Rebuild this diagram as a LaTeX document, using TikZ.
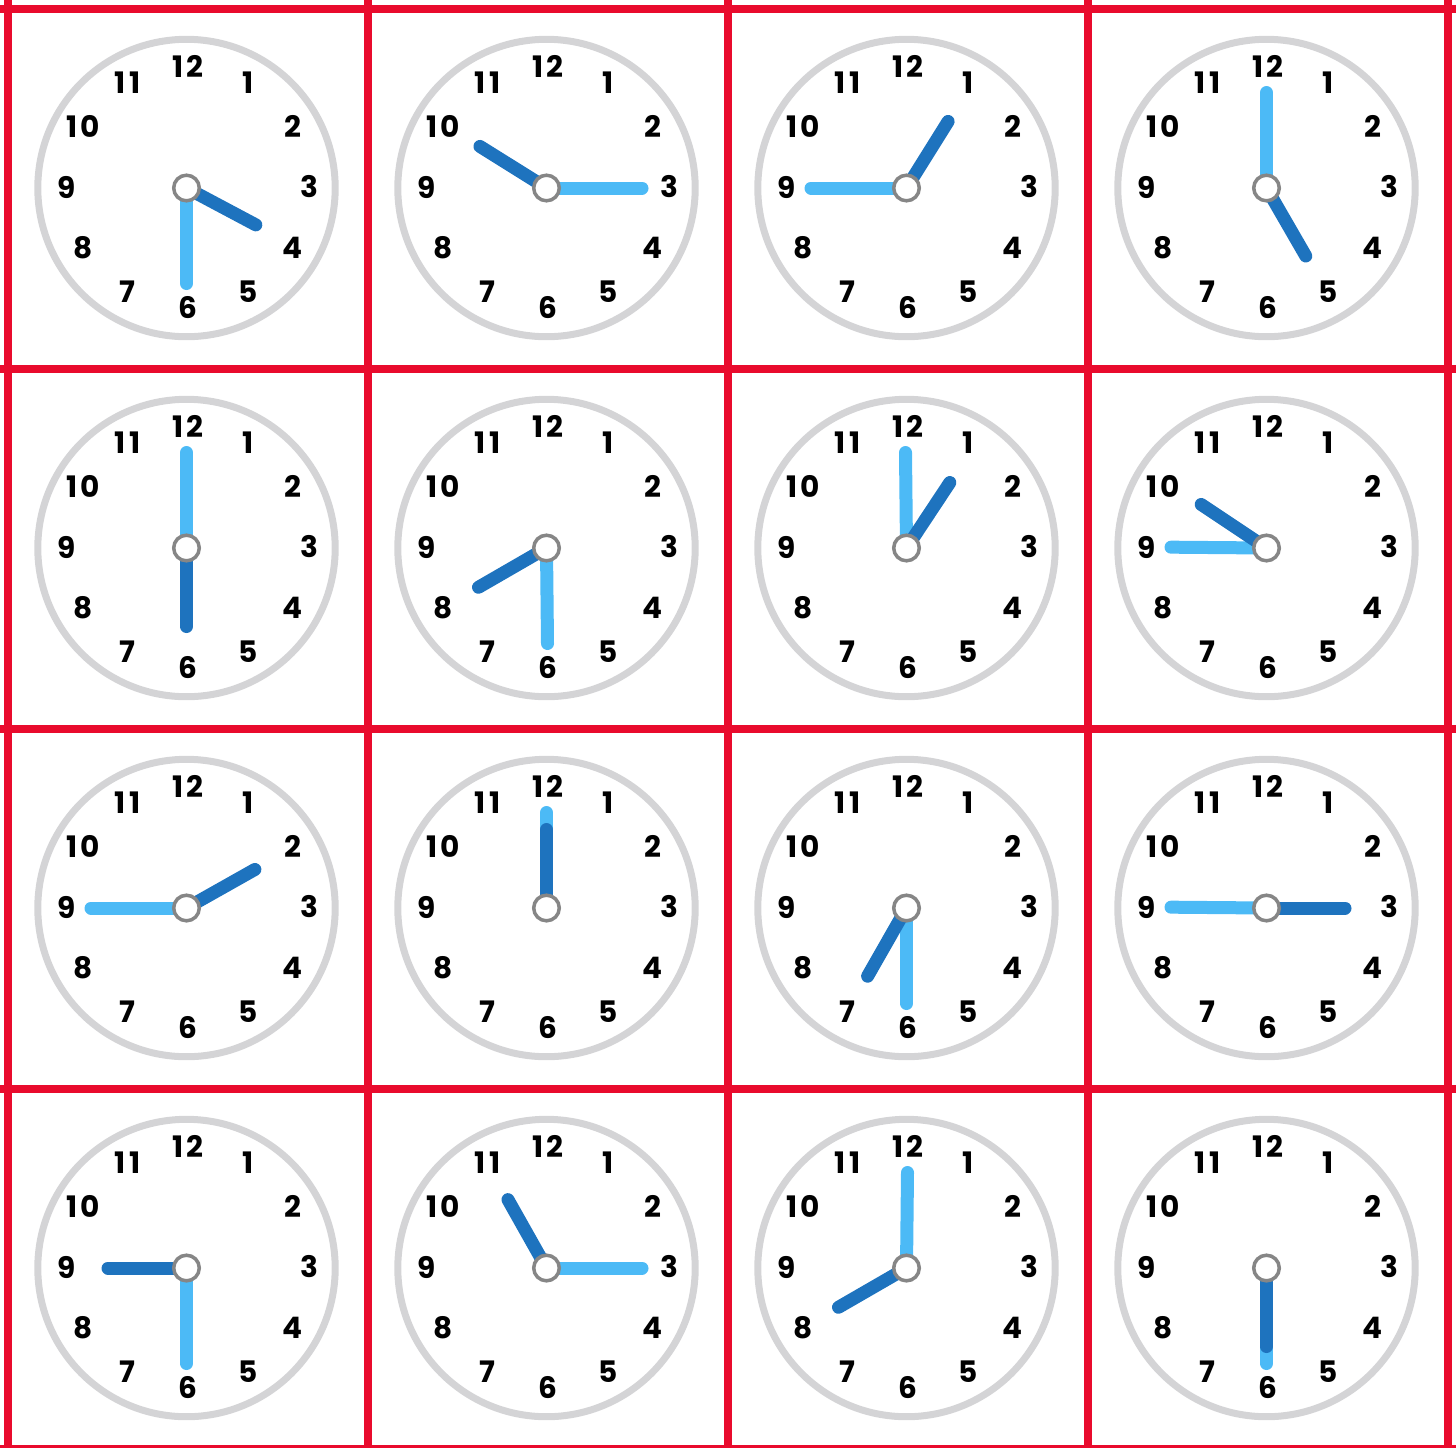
\documentclass[tikz,border=0pt]{standalone}
\usepackage{fontspec}
\setmainfont{Poppins}
\usetikzlibrary{calc}

\definecolor{gridred}{HTML}{E90B2D}
\definecolor{rimgray}{HTML}{D4D4D6}
\definecolor{hubgray}{HTML}{868686}
\definecolor{handdark}{HTML}{1E73BE}
\definecolor{handlight}{HTML}{4CBAF6}

\begin{document}
\begin{tikzpicture}[
x=0.5pt, y=-0.5pt,
cellline/.style={draw=gridred, line width=4pt},
rim/.style={draw=rimgray, line width=3.5pt},
minutehand/.style={draw=handlight, line width=6.5pt, line cap=round},
hourhand/.style={draw=handdark, line width=6.5pt, line cap=round},
hub/.style={circle, draw=hubgray, fill=white, line width=1.75pt, minimum size=12.8pt, inner sep=0pt},
numeral/.style={font=\fontsize{14.8}{16}\selectfont\bfseries\addfontfeatures{LetterSpace=12}, inner sep=0pt}
]
\useasboundingbox (0,0) rectangle (1456,1447);

% clock faces: hour angle / minute angle, clockwise from 12
\foreach \hr/\mn [count=\i from 0] in {118/180, 302/90, 32/270, 150/0,
  180/0, 240/179.4, 33.5/359.4, 303.7/270.5,
  60.6/270, 0/0, 209.7/180, 90/270.5,
  270/180, 330.6/90, 240/0.6, 180/180} {
  \pgfmathsetmacro\cx{186.5+360*mod(\i,4)}
  \pgfmathsetmacro\cy{188+360*floor(\i/4)}
  \coordinate (c\i) at (\cx,\cy);
  \draw[rim] (c\i) circle[radius=148.7];
  \foreach \n in {1,...,12}
    \node[numeral] (n\i-\n) at ($(c\i)+(\n*30-90:121)+(1.5,-1)$) {\n};
  \draw[minutehand] (c\i) -- ++(\mn-90:95.5);
  \draw[hourhand] (c\i) -- ++(\hr-90:78.5);
  \node[hub] (hub\i) at (c\i) {};
}

% red grid
\foreach \k in {0,...,4} {
  \draw[cellline] (7.5+360*\k,0) -- (7.5+360*\k,1447);
  \draw[cellline] (0,8.5+360*\k) -- (1456,8.5+360*\k);
}

\end{tikzpicture}
\end{document}
